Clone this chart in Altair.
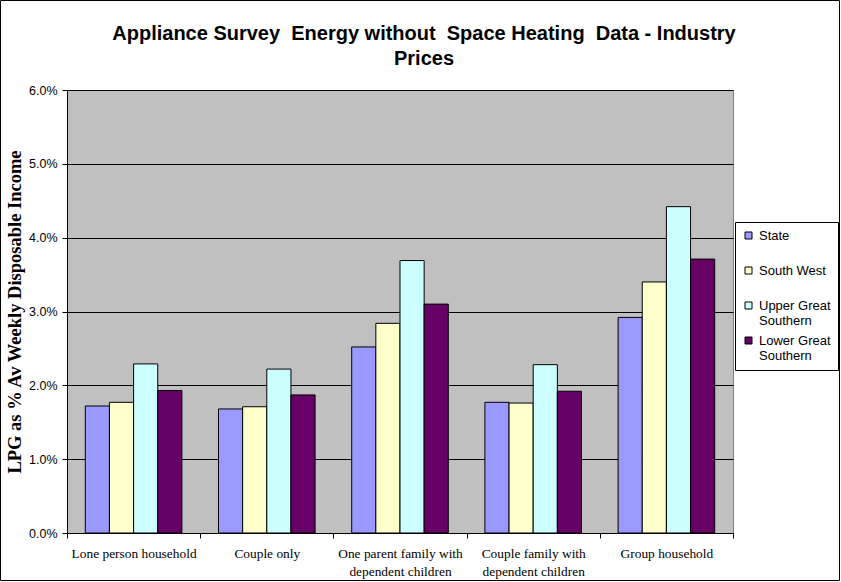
import altair as alt
import pandas as pd

# Household types (x categories) and regions (series)
categories = [
    "Lone person household",
    "Couple only",
    "One parent family with dependent children",
    "Couple family with dependent children",
    "Group household",
]
regions = ["State", "South West", "Upper Great Southern", "Lower Great Southern"]
colors = ["#9999FF", "#FFFFCC", "#CCFFFF", "#660066"]

# LPG cost as % of average weekly disposable income
state = [1.72, 1.68, 2.52, 1.77, 2.92]
south_west = [1.77, 1.71, 2.84, 1.76, 3.40]
upper_great_southern = [2.29, 2.22, 3.69, 2.28, 4.42]
lower_great_southern = [1.93, 1.87, 3.10, 1.92, 3.71]

y_ticks = [0.0, 0.01, 0.02, 0.03, 0.04, 0.05, 0.06]

series = [state, south_west, upper_great_southern, lower_great_southern]
rows = []
for region, vals in zip(regions, series):
    for cat, v in zip(categories, vals):
        rows.append({"category": cat, "region": region, "value": v / 100})
df = pd.DataFrame(rows)

W, H = 666, 443
PAD = {"left": 67, "top": 90, "right": 108, "bottom": 49}

x_label_expr = (
    "datum.label == 'One parent family with dependent children' ? "
    "['One parent family with', 'dependent children'] : "
    "datum.label == 'Couple family with dependent children' ? "
    "['Couple family with', 'dependent children'] : datum.label"
)
legend_label_expr = (
    "datum.label == 'Upper Great Southern' ? ['Upper Great', 'Southern'] : "
    "datum.label == 'Lower Great Southern' ? ['Lower Great', 'Southern'] : datum.label"
)

bars = alt.Chart(df).mark_bar(stroke="black", strokeWidth=1).encode(
    x=alt.X(
        "category:N",
        sort=categories,
        scale=alt.Scale(paddingInner=0, paddingOuter=0),
        axis=alt.Axis(
            title=None,
            labelExpr=x_label_expr,
            tickBand="extent",
            labelAngle=0,
            labelFont="Liberation Serif",
            labelFontSize=13.4,
            labelColor="black",
            labelPadding=8,
            labelLimit=0,
            labelLineHeight=18,
            tickColor="black",
            tickSize=5,
            domainColor="black",
            grid=False,
        ),
    ),
    xOffset=alt.XOffset(
        "region:N", sort=regions, scale=alt.Scale(paddingInner=0, paddingOuter=0.758)
    ),
    y=alt.Y(
        "value:Q",
        scale=alt.Scale(domain=[0, 0.06], nice=False),
        axis=alt.Axis(
            title="LPG as % Av Weekly Disposable Income",
            titleFont="Liberation Serif",
            titleFontSize=18.5,
            titleFontWeight="bold",
            titleColor="black",
            titlePadding=4,
            values=y_ticks,
            format=".1%",
            labelFont="Liberation Sans",
            labelFontSize=12.5,
            labelColor="black",
            labelPadding=5,
            tickColor="black",
            tickSize=5,
            domainColor="black",
            grid=True,
            gridColor="black",
            gridWidth=1,
        ),
    ),
    color=alt.Color(
        "region:N",
        sort=regions,
        scale=alt.Scale(domain=regions, range=colors),
        legend=alt.Legend(
            title=None,
            orient="none",
            legendX=668,
            legendY=132,
            symbolType="square",
            symbolSize=49,
            symbolStrokeColor="black",
            symbolStrokeWidth=1,
            symbolOpacity=1,
            labelFont="Liberation Sans",
            labelFontSize=13,
            labelColor="black",
            labelLimit=0,
            labelExpr=legend_label_expr,
            labelOffset=4,
            strokeColor="black",
            fillColor="white",
            padding=7,
            gridAlign="all",
            rowPadding=6,
        ),
    ),
)

# outer frame around the whole figure
frame = alt.Chart(pd.DataFrame({"k": [0]})).mark_rect(
    fill=None, stroke="black", strokeWidth=1
).encode(
    x=alt.value(-PAD["left"] + 0.5),
    x2=alt.value(W + PAD["right"] - 1.5),
    y=alt.value(-PAD["top"] + 0.5),
    y2=alt.value(H + PAD["bottom"] - 1.5),
)

chart = (
    alt.layer(bars, frame)
    .properties(
        width=W,
        height=H,
        padding=PAD,
        autosize=alt.AutoSizeParams(type="none"),
        background="white",
        title=alt.TitleParams(
            [
                "Appliance Survey\u00a0\u00a0Energy without\u00a0\u00a0Space Heating\u00a0\u00a0Data - Industry",
                "Prices",
            ],
            font="Liberation Sans",
            fontSize=20,
            fontWeight="bold",
            color="black",
            anchor="middle",
            frame="group",
            dx=24,
            offset=-69,
            lineHeight=25,
        ),
    )
    .configure_view(fill="#C0C0C0", stroke="#808080", strokeWidth=1)
)

chart.save("out.html", embed_options={"renderer": "svg", "actions": False})
